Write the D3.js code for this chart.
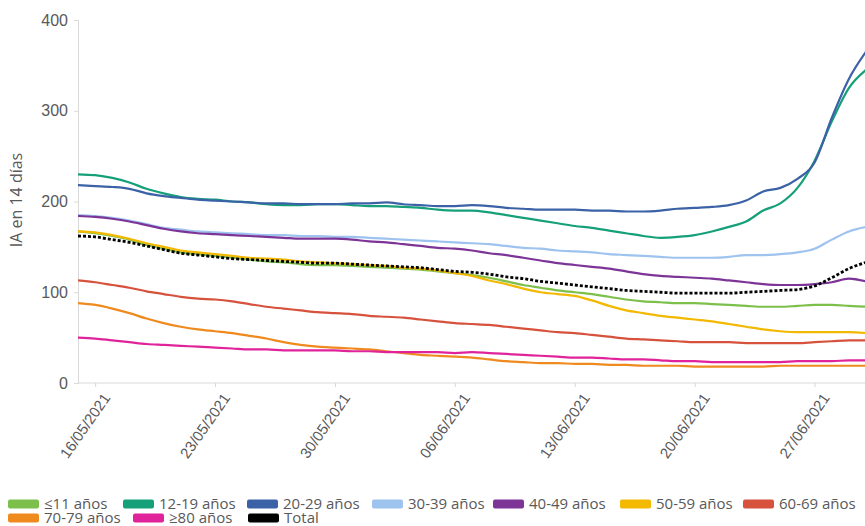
<!DOCTYPE html>
<html lang="es">
<head>
<meta charset="UTF-8">
<title>IA en 14 días por grupo de edad</title>
<script src="https://d3js.org/d3.v7.min.js"></script>
<style>
  body { margin: 0; background: #fff; font-family: "Open Sans", sans-serif; }
  .axis text { font-size: 15px; fill: #595959; }
  .axis path, .axis line { stroke: #d9d9d9; }
  .legend text { font-size: 15px; fill: #595959; }
</style>
</head>
<body>
<svg id="chart" width="865" height="526"></svg>
<script>
// fechas: 15/05/2021 .. 30/06/2021, un valor por día
const startDate = new Date(2021, 4, 15);
const nDays = 47;
const tickDates = ["16/05/2021", "23/05/2021", "30/05/2021", "06/06/2021", "13/06/2021", "20/06/2021", "27/06/2021"];
const yTicks = [0, 100, 200, 300, 400];

const grupos = ["≤11 años", "12-19 años", "20-29 años", "30-39 años", "40-49 años", "50-59 años", "60-69 años", "70-79 años", "≥80 años", "Total"];
const colores = ["#7cbf4a", "#16a07a", "#3b62a6", "#9dc3ee", "#7d3497", "#f3b800", "#d6523c", "#ef8a1f", "#e0239a", "#000000"];
// posición x de cada muestra de la leyenda (dos filas)
const legendX = [8, 123, 247, 372, 493, 620, 743, 8, 133, 248];

const menor11 = [167,165,162,158,152,148,144,142,140,138,136,134,133,131,130,130,129,128,127,126,125,123,121,119,116,112,108,105,102,100,98,95,92,90,89,88,88,87,86,85,84,84,85,86,86,85,84];
const a12_19 = [230,229,226,221,214,209,205,203,202,200,199,197,196,196,197,197,196,195,195,194,193,191,190,190,188,185,182,179,176,173,171,168,165,162,160,161,163,167,172,178,190,198,215,245,288,325,345];
const a20_29 = [218,217,216,214,209,206,204,202,201,200,199,198,198,197,197,197,198,198,199,197,196,195,195,196,195,193,192,191,191,191,190,190,189,189,190,192,193,194,196,201,211,215,225,243,292,335,365];
const a30_39 = [185,184,182,179,175,171,169,167,166,165,164,163,163,162,162,161,161,160,159,158,157,156,155,154,153,151,149,148,146,145,144,142,141,140,139,138,138,138,139,141,141,142,144,148,158,167,172];
const a40_49 = [184,183,181,178,174,170,167,165,164,163,162,161,160,159,159,159,158,156,155,153,151,149,148,146,143,141,138,135,132,130,128,126,123,120,118,117,116,115,113,111,109,108,108,109,111,115,112];
const a50_59 = [167,166,163,159,154,150,146,144,142,140,138,137,136,134,133,132,131,130,129,127,126,124,121,118,113,109,104,100,98,96,91,85,80,77,74,72,70,68,65,62,59,57,56,56,56,56,55];
const a60_69 = [113,111,108,105,101,98,95,93,92,90,87,84,82,80,78,77,76,74,73,72,70,68,66,65,64,62,60,58,56,55,53,51,49,48,47,46,45,45,45,44,44,44,44,45,46,47,47];
const a70_79 = [88,86,82,77,71,66,62,59,57,55,52,49,45,42,40,39,38,37,35,33,31,30,29,28,26,24,23,22,22,21,21,20,20,19,19,19,18,18,18,18,18,19,19,19,19,19,19];
const mayor80 = [50,49,47,45,43,42,41,40,39,38,37,37,36,36,36,36,35,35,34,34,34,34,33,34,33,32,31,30,29,28,28,27,26,26,25,24,24,23,23,23,23,23,24,24,24,25,25];
const total = [162,161,158,155,151,147,143,141,139,137,136,135,134,133,132,132,131,130,129,128,127,125,123,122,120,117,115,112,110,108,106,104,102,101,100,99,99,99,99,100,101,102,103,107,116,126,133];

const series = [menor11, a12_19, a20_29, a30_39, a40_49, a50_59, a60_69, a70_79, mayor80, total];

const svg = d3.select("#chart");
const parse = d3.timeParse("%d/%m/%Y");
const fechas = d3.range(nDays).map(i => d3.timeDay.offset(startDate, i));

const x = d3.scaleTime()
  .domain([fechas[0], fechas[nDays - 1]])
  .range([78, 866]);
const y = d3.scaleLinear().domain([0, 400]).range([383, 20]);

// eje Y
const yAxis = svg.append("g")
  .attr("class", "axis")
  .attr("transform", "translate(78,0)")
  .call(d3.axisLeft(y).tickValues(yTicks).tickSize(4).tickPadding(6));
yAxis.selectAll("text").style("font-size", "16px");

// eje X
const xAxis = svg.append("g")
  .attr("class", "axis")
  .attr("transform", "translate(0,383)")
  .call(d3.axisBottom(x).tickValues(tickDates.map(parse)).tickFormat(d3.timeFormat("%d/%m/%Y")).tickSize(4));
xAxis.select(".domain").attr("d", "M78,0H865");
xAxis.selectAll("text")
  .attr("text-anchor", "end")
  .attr("y", 0)
  .attr("dy", "0.35em")
  .attr("transform", "translate(11,12) rotate(-55)");

svg.append("text")
  .attr("transform", "translate(22,200) rotate(-90)")
  .attr("text-anchor", "middle")
  .style("font-size", "16px")
  .style("fill", "#595959")
  .text("IA en 14 días");

// líneas
const line = d3.line()
  .x((d, i) => x(fechas[i]))
  .y(d => y(d))
  .curve(d3.curveMonotoneX);

svg.append("clipPath").attr("id", "clip")
  .append("rect").attr("x", 78).attr("y", 0).attr("width", 787).attr("height", 390);

const g = svg.append("g").attr("clip-path", "url(#clip)");
series.forEach((vals, k) => {
  const p = g.append("path")
    .datum(vals)
    .attr("fill", "none")
    .attr("stroke", colores[k])
    .attr("stroke-width", 2.2)
    .attr("d", line);
  if (grupos[k] === "Total") {
    p.attr("stroke-width", 2.8).attr("stroke-dasharray", "3,2");
  }
});

// leyenda
const legend = svg.append("g").attr("class", "legend");
grupos.forEach((name, k) => {
  const ly = k < 7 ? 504 : 518;
  const item = legend.append("g").attr("transform", `translate(${legendX[k]},${ly})`);
  item.append("rect")
    .attr("x", 0).attr("y", -4.5)
    .attr("width", 31).attr("height", 9)
    .attr("rx", 2)
    .attr("fill", colores[k]);
  item.append("text")
    .attr("x", 36).attr("y", 0)
    .attr("dy", "0.35em")
    .text(name);
});
</script>
</body>
</html>
